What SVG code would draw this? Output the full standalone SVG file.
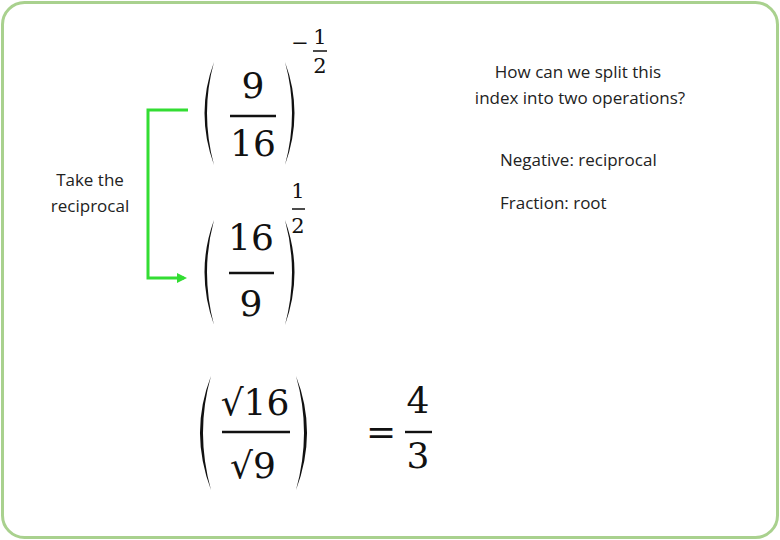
<svg xmlns="http://www.w3.org/2000/svg" width="780" height="540" viewBox="0 0 780 540">
<style>
.m{font-family:"DejaVu Serif","Liberation Serif",serif;fill:#111;text-anchor:middle}
.big{font-size:36px}
.sm{font-size:21px}
.t{font-family:"Open Sans","Liberation Sans",sans-serif;font-size:17px;fill:#222}
.p{fill:#111;stroke:none}
.bar{stroke:#111;stroke-width:2.4}
</style>
<defs><marker id="ah" markerWidth="10" markerHeight="10" refX="7" refY="5" orient="auto" markerUnits="userSpaceOnUse"><path d="M0,0L10,5L0,10z" fill="#33dd33"/></marker></defs>
<rect x="2.5" y="2.5" width="775" height="535" rx="22" fill="#fff" stroke="#a9d18e" stroke-width="3"/>
<g id="connectors"><path d="M188,110H148V278H184" fill="none" stroke="#33dd33" stroke-width="3" marker-end="url(#ah)"/></g>
<g id="frac1">
<path class="p" d="M214,62Q195,113 214,165Q200,113 214,62z"/><path class="p" d="M285,62Q304,113 285,165Q299,113 285,62z"/>
<text class="m big" x="253" y="98">9</text><line class="bar" x1="230" y1="116" x2="276" y2="116"/><text class="m big" x="253" y="156">16</text>
<text class="m sm" x="300" y="50">−</text><text class="m sm" x="320" y="44">1</text><line class="bar" x1="313" y1="51" x2="327" y2="51" style="stroke-width:1.5"/><text class="m sm" x="320" y="73">2</text>
</g>
<g id="frac2">
<path class="p" d="M214,220Q195,272 214,325Q200,272 214,220z"/><path class="p" d="M285,220Q304,272 285,325Q299,272 285,220z"/>
<text class="m big" x="251" y="250">16</text><line class="bar" x1="229" y1="273" x2="274" y2="273"/><text class="m big" x="251" y="316">9</text>
<text class="m sm" x="298" y="198">1</text><line class="bar" x1="292" y1="209" x2="305" y2="209" style="stroke-width:1.5"/><text class="m sm" x="298" y="233">2</text>
</g>
<g id="frac3">
<path class="p" d="M211,376Q189,432 211,490Q195,432 211,376z"/><path class="p" d="M296,376Q318,432 296,490Q312,432 296,376z"/>
<text class="m big" x="255" y="415">√16</text><line class="bar" x1="222" y1="432" x2="290" y2="432"/><text class="m big" x="253" y="478">√9</text>
<text class="m big" x="381" y="444">=</text>
<text class="m big" x="418" y="413">4</text><line class="bar" x1="405" y1="432" x2="432" y2="432"/><text class="m big" x="418" y="468">3</text>
</g>
<g id="question"><text class="t" x="578" y="78" text-anchor="middle">How can we split this</text><text class="t" x="580" y="104" text-anchor="middle">index into two operations?</text></g>
<g id="notes"><text class="t" x="500" y="166">Negative: reciprocal</text><text class="t" x="500" y="209">Fraction: root</text></g>
<g id="take"><text class="t" x="90" y="186" text-anchor="middle">Take the</text><text class="t" x="90" y="212" text-anchor="middle">reciprocal</text></g>
</svg>
